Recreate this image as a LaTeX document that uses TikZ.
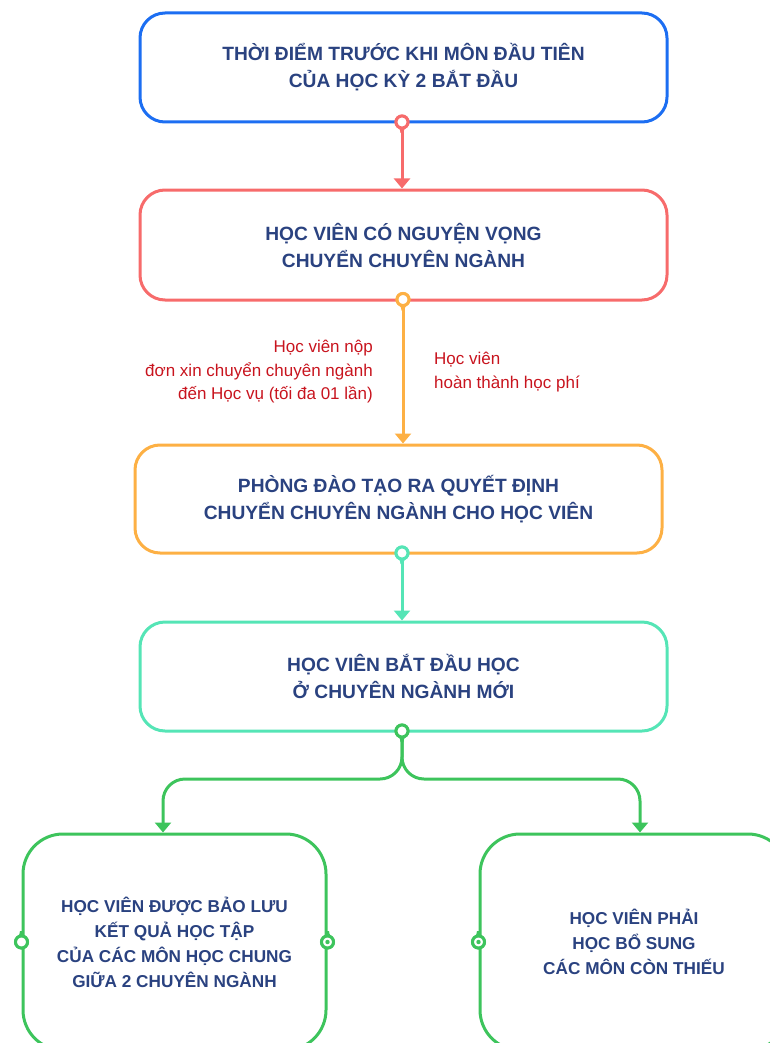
\documentclass[tikz,border=0pt]{standalone}
\usepackage{fontspec}
\setmainfont{Liberation Sans}
\usetikzlibrary{arrows.meta}
\definecolor{cblue}{HTML}{1C6EF2}
\definecolor{cred}{HTML}{F76B6B}
\definecolor{corange}{HTML}{FDB044}
\definecolor{cteal}{HTML}{55E5B6}
\definecolor{cgreen}{HTML}{3DC45C}
\definecolor{navy}{HTML}{2A4280}
\definecolor{lblred}{HTML}{C8141E}
\tikzset{
  box/.style={draw, line width=3pt, rounded corners=25pt, fill=white,
    text=navy, align=center, inner sep=0pt,
    font=\bfseries\fontsize{19.2}{27}\selectfont},
  gbox/.style={box, draw=cgreen, rounded corners=40pt},
  pinc/.style={circle, draw, line width=3pt, fill=white, minimum size=12pt, inner sep=0pt},
  conn/.style={line width=3pt, -{Triangle[width=16pt,length=10pt]}},
  lbl/.style={text=lblred, font=\fontsize{17}{23.5}\selectfont, inner sep=0pt},
}
\begin{document}
\begin{tikzpicture}[x=1pt,y=-1pt]
\useasboundingbox (0,0) rectangle (770,1043);
\clip (0,0) rectangle (770,1043);
% boxes
\node[box, draw=cblue, minimum width=527pt, minimum height=109pt] (b1) at (403.5,67.5)
  {THỜI ĐIỂM TRƯỚC KHI MÔN ĐẦU TIÊN\\CỦA HỌC KỲ 2 BẮT ĐẦU};
\node[box, draw=cred, minimum width=527pt, minimum height=110pt] (b2) at (403.5,245)
  {HỌC VIÊN CÓ NGUYỆN VỌNG\\CHUYỂN CHUYÊN NGÀNH};
\node[box, draw=corange, minimum width=527pt, minimum height=108pt] (b3) at (398.5,499)
  {PHÒNG ĐÀO TẠO RA QUYẾT ĐỊNH\\CHUYỂN CHUYÊN NGÀNH CHO HỌC VIÊN};
\node[box, draw=cteal, minimum width=527pt, minimum height=109pt] (b4) at (403.5,676.5)
  {HỌC VIÊN BẮT ĐẦU HỌC\\Ở CHUYÊN NGÀNH MỚI};
\node[gbox, minimum width=303pt, minimum height=216pt, font=\bfseries\fontsize{17.2}{25}\selectfont] (b5) at (174.5,942)
  {HỌC VIÊN ĐƯỢC BẢO LƯU\\KẾT QUẢ HỌC TẬP\\CỦA CÁC MÔN HỌC CHUNG\\GIỮA 2 CHUYÊN NGÀNH};
\node[gbox, minimum width=308pt, minimum height=216pt, font=\bfseries\fontsize{17.2}{25}\selectfont] (b6) at (634,942)
  {HỌC VIÊN PHẢI\\HỌC BỔ SUNG\\CÁC MÔN CÒN THIẾU};
% pins
\node[pinc, draw=cred] (p1) at (402,122) {};
\node[pinc, draw=corange] (p2) at (403,299.5) {};
\node[pinc, draw=cteal] (p3) at (402,553) {};
\node[pinc, draw=cgreen] (p4) at (402,731) {};
% connectors
\draw[conn, cred] (p1) -- (b2.north -| p1);
\draw[conn, corange] (p2) -- (b3.north -| p2);
\draw[conn, cteal] (p3) -- (b4.north -| p3);
\coordinate (j) at (402,779);
\draw[conn, cgreen, rounded corners=22pt] (p4) -- (j) -| (163,832.5) coordinate (a5);
\draw[conn, cgreen, rounded corners=22pt] (p4) -- (j) -| (640,832.5) coordinate (a6);
% tapers below pins, then pins redrawn on top
\foreach \p/\c in {p1/cred, p2/corange, p3/cteal, p4/cgreen} {
  \fill[\c] (\p.center) ++(-7,1) to[out=-60,in=90] ++(5.5,10) -- ++(3,0)
    to[out=90,in=-120] ++(5.5,-10) -- cycle;
  \draw[\c, line width=3pt, fill=white] (\p.center) circle (6pt);
}
% labels
\node[lbl, anchor=north east, align=right] (l1) at (373,340)
  {Học viên nộp\\đơn xin chuyển chuyên ngành\\đến Học vụ (tối đa 01 lần)};
\node[lbl, anchor=north west, align=left] (l2) at (434,352)
  {Học viên\\hoàn thành học phí};
% side pins on green boxes
\node[pinc, draw=cgreen] (s1) at (b5.west) {};
\node[pinc, draw=cgreen] (s2) at (b5.east) {};
\node[pinc, draw=cgreen] (s3) at (b6.west) {};
\foreach \p in {s1, s2, s3} {
  \fill[cgreen] (\p.center) ++(-7,-1) to[out=60,in=-90] ++(5.5,-10) -- ++(3,0)
    to[out=-90,in=120] ++(5.5,10) -- cycle;
  \draw[cgreen, line width=3pt, fill=white] (\p.center) circle (6pt);
}
\fill[cgreen] (s2) circle (2.2pt);
\fill[cgreen] (s3) circle (2.2pt);
\end{tikzpicture}
\end{document}
